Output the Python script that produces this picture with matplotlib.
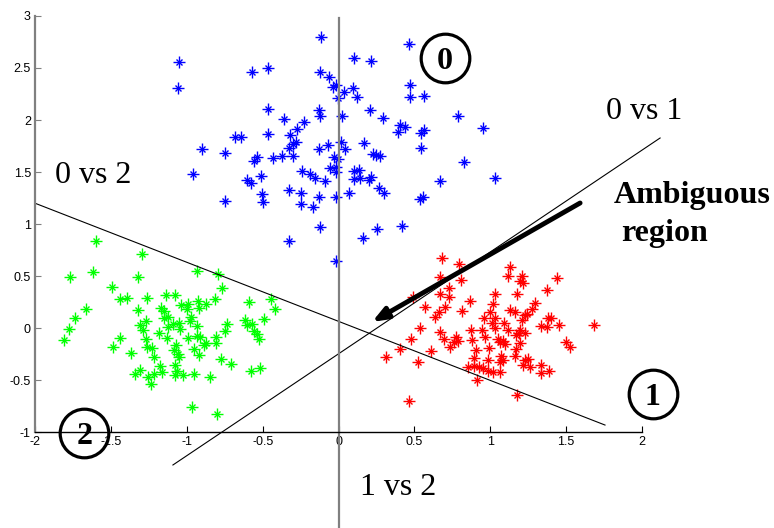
import matplotlib
matplotlib.use("Agg")
import matplotlib.pyplot as plt

# class 0 (blue), class 1 (red), class 2 (green) samples
blue_x = [-0.114, -1.048, -0.571, -0.466, -0.125, -0.064, -0.037, -0.015, -1.059, -0.005,
          -0.466, -0.130, -0.121, -0.356, -0.229, -0.272, -0.318, -0.466, -0.685, -0.641,
          -0.279, -0.301, -0.328, -0.901, -0.751, -0.130, -0.070, -0.538, -0.558, -0.433,
          -0.371, -0.297, -0.033, -0.005, -0.510, -0.956, -0.242, -0.191, -0.152, -0.088,
          -0.059, -0.015, -0.015, -0.604, -0.575, -0.323, -0.246, -0.505, -0.499, -0.751,
          -0.246, -0.165, -0.130, -0.015, -0.125, -0.323, -0.015,
          0.463, 0.101, 0.215, 0.035, 0.094, 0.123, 0.468, 0.472, 0.562, 0.022,
          0.209, 0.292, 0.402, 0.435, 0.391, 0.545, 0.562, 0.786, 0.951, 0.018,
          0.044, 0.167, 0.545, 0.226, 0.248, 0.275, 0.105, 0.132, 0.105, 0.143,
          0.204, 0.215, 0.826, 0.672, 1.028, 0.270, 0.299, 0.072, 0.540, 0.556,
          0.255, 0.417, 0.160]
blue_y = [2.795, 2.555, 2.459, 2.503, 2.459, 2.410, 2.320, 2.337, 2.305, 2.209,
          2.106, 2.096, 2.038, 2.010, 1.978, 1.910, 1.856, 1.865, 1.833, 1.833,
          1.792, 1.769, 1.728, 1.721, 1.686, 1.718, 1.760, 1.647, 1.609, 1.638,
          1.654, 1.654, 1.647, 1.622, 1.465, 1.478, 1.510, 1.478, 1.439, 1.416,
          1.535, 1.551, 1.503, 1.423, 1.391, 1.327, 1.295, 1.288, 1.209, 1.224,
          1.189, 1.167, 1.257, 1.257, 0.974, 0.837, 0.644,
          2.728, 2.599, 2.570, 2.266, 2.311, 2.224, 2.337, 2.224, 2.234, 2.041,
          2.096, 2.016, 1.952, 1.936, 1.882, 1.872, 1.904, 2.041, 1.920, 1.792,
          1.721, 1.776, 1.734, 1.670, 1.663, 1.654, 1.510, 1.519, 1.433, 1.446,
          1.423, 1.449, 1.593, 1.413, 1.439, 1.343, 1.301, 1.295, 1.240, 1.263,
          0.952, 0.981, 0.863]

red_x = [0.681, 0.793, 1.133, 1.116, 1.208, 1.199, 1.215, 1.439, 0.672, 0.808,
         0.731, 0.731, 0.672, 0.490, 1.033, 1.177, 1.373, 0.868, 1.021, 1.292,
         1.276, 0.571, 0.699, 0.659, 0.633, 0.813, 1.127, 1.160, 0.995, 0.956,
         1.028, 1.013, 1.090, 1.226, 1.243, 1.208, 1.380, 1.402, 1.336, 1.375,
         1.452, 1.682, 0.540, 0.672, 0.874, 0.944, 0.967, 1.028, 1.116, 1.193,
         1.188, 1.171, 1.226, 0.479, 0.692, 0.776, 0.764, 0.786, 0.736, 0.881,
         1.050, 1.061, 1.087, 1.100, 1.193, 1.501, 1.527, 0.402, 0.611, 0.903,
         0.991, 1.171, 1.160, 0.310, 0.523, 0.896, 0.984, 1.072, 1.083, 1.066,
         1.226, 1.248, 1.215, 1.259, 0.852, 0.896, 0.929, 0.951, 0.984, 1.017,
         1.061, 1.331, 1.336, 1.390, 0.911, 1.175, 0.463]
red_y = [0.670, 0.615, 0.590, 0.500, 0.500, 0.455, 0.430, 0.478, 0.494, 0.462,
         0.381, 0.301, 0.327, 0.295, 0.324, 0.327, 0.365, 0.260, 0.231, 0.237,
         0.180, 0.205, 0.205, 0.157, 0.103, 0.163, 0.173, 0.157, 0.157, 0.099,
         0.093, 0.045, 0.051, 0.125, 0.135, 0.077, 0.093, 0.099, 0.019, 0.007,
         0.029, 0.029, 0.003, -0.035, -0.019, -0.019, -0.083, -0.003, -0.019, -0.019,
         -0.051, -0.067, -0.051, -0.106, -0.109, -0.083, -0.131, -0.125, -0.180, -0.115,
         -0.109, -0.131, -0.122, -0.154, -0.141, -0.131, -0.180, -0.202, -0.218, -0.212,
         -0.196, -0.205, -0.269, -0.276, -0.330, -0.292, -0.308, -0.269, -0.308, -0.330,
         -0.308, -0.301, -0.356, -0.372, -0.372, -0.365, -0.378, -0.388, -0.410, -0.420,
         -0.426, -0.356, -0.436, -0.410, -0.500, -0.644, -0.699]

green_x = [-1.597, -1.296, -1.766, -1.615, -1.322, -0.934, -0.795, -1.494, -0.766, -1.437,
           -1.393, -1.261, -1.136, -1.076, -1.663, -1.318, -1.169, -1.147, -1.037, -0.993,
           -0.997, -0.927, -0.921, -0.872, -0.817, -0.591, -0.444, -0.417, -1.735, -1.779,
           -1.806, -1.267, -1.311, -1.290, -1.151, -1.125, -1.092, -1.054, -1.125, -1.043,
           -0.971, -0.977, -0.934, -0.615, -0.604, -0.571, -0.492, -0.736, -0.747, -1.439,
           -1.487, -1.366, -1.267, -1.186, -1.129, -0.993, -0.934, -0.911, -0.888, -0.872,
           -0.806, -0.806, -0.560, -0.538, -0.525, -1.261, -1.230, -1.219, -1.070, -1.085,
           -1.059, -1.054, -0.953, -0.921, -0.773, -0.707, -1.175, -1.076, -1.063, -1.338,
           -1.311, -1.257, -1.213, -1.164, -1.234, -1.076, -1.026, -0.953, -0.850, -0.575,
           -0.516, -0.964, -0.802]
green_y = [0.839, 0.708, 0.494, 0.542, 0.494, 0.551, 0.519, 0.391, 0.381, 0.279,
           0.285, 0.292, 0.317, 0.317, 0.180, 0.173, 0.196, 0.167, 0.221, 0.231,
           0.180, 0.260, 0.196, 0.231, 0.279, 0.247, 0.279, 0.180, 0.093, -0.013,
           -0.115, 0.070, 0.029, -0.019, 0.099, 0.103, 0.038, 0.051, 0.007, -0.013,
           0.103, 0.070, 0.019, 0.077, 0.029, 0.038, 0.087, 0.038, -0.026, -0.099,
           -0.180, -0.237, -0.106, -0.051, -0.099, -0.099, -0.077, -0.090, -0.163, -0.147,
           -0.090, -0.147, -0.026, -0.058, -0.106, -0.180, -0.189, -0.282, -0.163, -0.212,
           -0.250, -0.282, -0.202, -0.260, -0.301, -0.349, -0.362, -0.356, -0.410, -0.445,
           -0.404, -0.474, -0.445, -0.420, -0.538, -0.452, -0.452, -0.442, -0.468, -0.413,
           -0.388, -0.763, -0.830]

# pairwise decision boundaries (end points)
line_01_x = [-1.091, 2.119]
line_01_y = [-1.317, 1.827]
line_02_x = [-2.0, 1.756]
line_02_y = [1.20, -0.933]
line_12_x = [0.0, 0.0]
line_12_y = [2.98, -1.93]

x_ticks = [-2, -1.5, -1, -0.5, 0, 0.5, 1, 1.5, 2]
x_tick_labels = ["-2", "-1.5", "-1", "-0.5", "0", "0.5", "1", "1.5", "2"]
y_ticks = [-1, -0.5, 0, 0.5, 1, 1.5, 2, 2.5, 3]
y_tick_labels = ["-1", "-0.5", "0", "0.5", "1", "1.5", "2", "2.5", "3"]

serif = "Liberation Serif"
sans = "Liberation Sans"


def draw_class(ax, xs, ys, color):
    # matlab style asterisk: a plus with a small cross on top
    ax.plot(xs, ys, linestyle="none", marker="+", markersize=8, mew=1.0, color=color)
    ax.plot(xs, ys, linestyle="none", marker="x", markersize=4.5, mew=1.0, color=color)


fig = plt.figure(figsize=(7.74, 5.28), dpi=100)
ax = fig.add_axes([0.0452, 0.1818, 0.7843, 0.7879])
ax.set_xlim(-2, 2)
ax.set_ylim(-1, 3)

draw_class(ax, blue_x, blue_y, "#0000ff")
draw_class(ax, red_x, red_y, "#ff0000")
draw_class(ax, green_x, green_y, "#00ff00")

ax.plot(line_01_x, line_01_y, color="black", lw=0.8, clip_on=False)
ax.plot(line_02_x, line_02_y, color="black", lw=0.8, clip_on=False)
ax.plot(line_12_x, line_12_y, color="#808080", lw=1.6, clip_on=False)

ax.spines["top"].set_visible(False)
ax.spines["right"].set_visible(False)
ax.spines["left"].set_color("#808080")
ax.spines["left"].set_linewidth(1.6)
ax.spines["bottom"].set_color("black")
ax.spines["bottom"].set_linewidth(1.0)

ax.set_xticks(x_ticks)
ax.set_xticklabels(x_tick_labels, fontfamily=sans, fontsize=9)
ax.set_yticks(y_ticks)
ax.set_yticklabels(y_tick_labels, fontfamily=sans, fontsize=9)
ax.tick_params(axis="both", direction="in", length=4, width=0.8, pad=3, colors="black")
ax.tick_params(axis="y", color="#808080", labelcolor="black")

# boundary names
ax.text(-1.871, 1.394, "0 vs 2", fontfamily=serif, fontsize=23, ha="left", va="baseline")
ax.text(1.764, 2.010, "0 vs 1", fontfamily=serif, fontsize=23, ha="left", va="baseline",
        clip_on=False)
ax.text(0.143, -1.606, "1 vs 2", fontfamily=serif, fontsize=23, ha="left", va="baseline",
        clip_on=False)

ax.text(1.812, 1.198, "Ambiguous", fontfamily=serif, fontweight="bold", fontsize=23,
        ha="left", va="baseline", clip_on=False)
ax.text(1.865, 0.837, "region", fontfamily=serif, fontweight="bold", fontsize=23,
        ha="left", va="baseline", clip_on=False)
ax.annotate("", xy=(0.221, 0.058), xytext=(1.592, 1.202),
            arrowprops=dict(arrowstyle="-|>,head_length=0.9,head_width=0.35",
                            color="black", lw=3.5, shrinkA=0, shrinkB=0))

# circled class labels
for label, cx, cy in [("0", 0.699, 2.593), ("1", 2.071, -0.635), ("2", -1.674, -1.013)]:
    ax.plot([cx], [cy], marker="o", markersize=35, mfc="none", mec="black", mew=2.3,
            clip_on=False, zorder=5)
    ax.text(cx, cy - 0.105, label, fontfamily=serif, fontweight="bold", fontsize=23,
            ha="center", va="baseline", clip_on=False, zorder=6)

fig.savefig("out.png", dpi=100)
